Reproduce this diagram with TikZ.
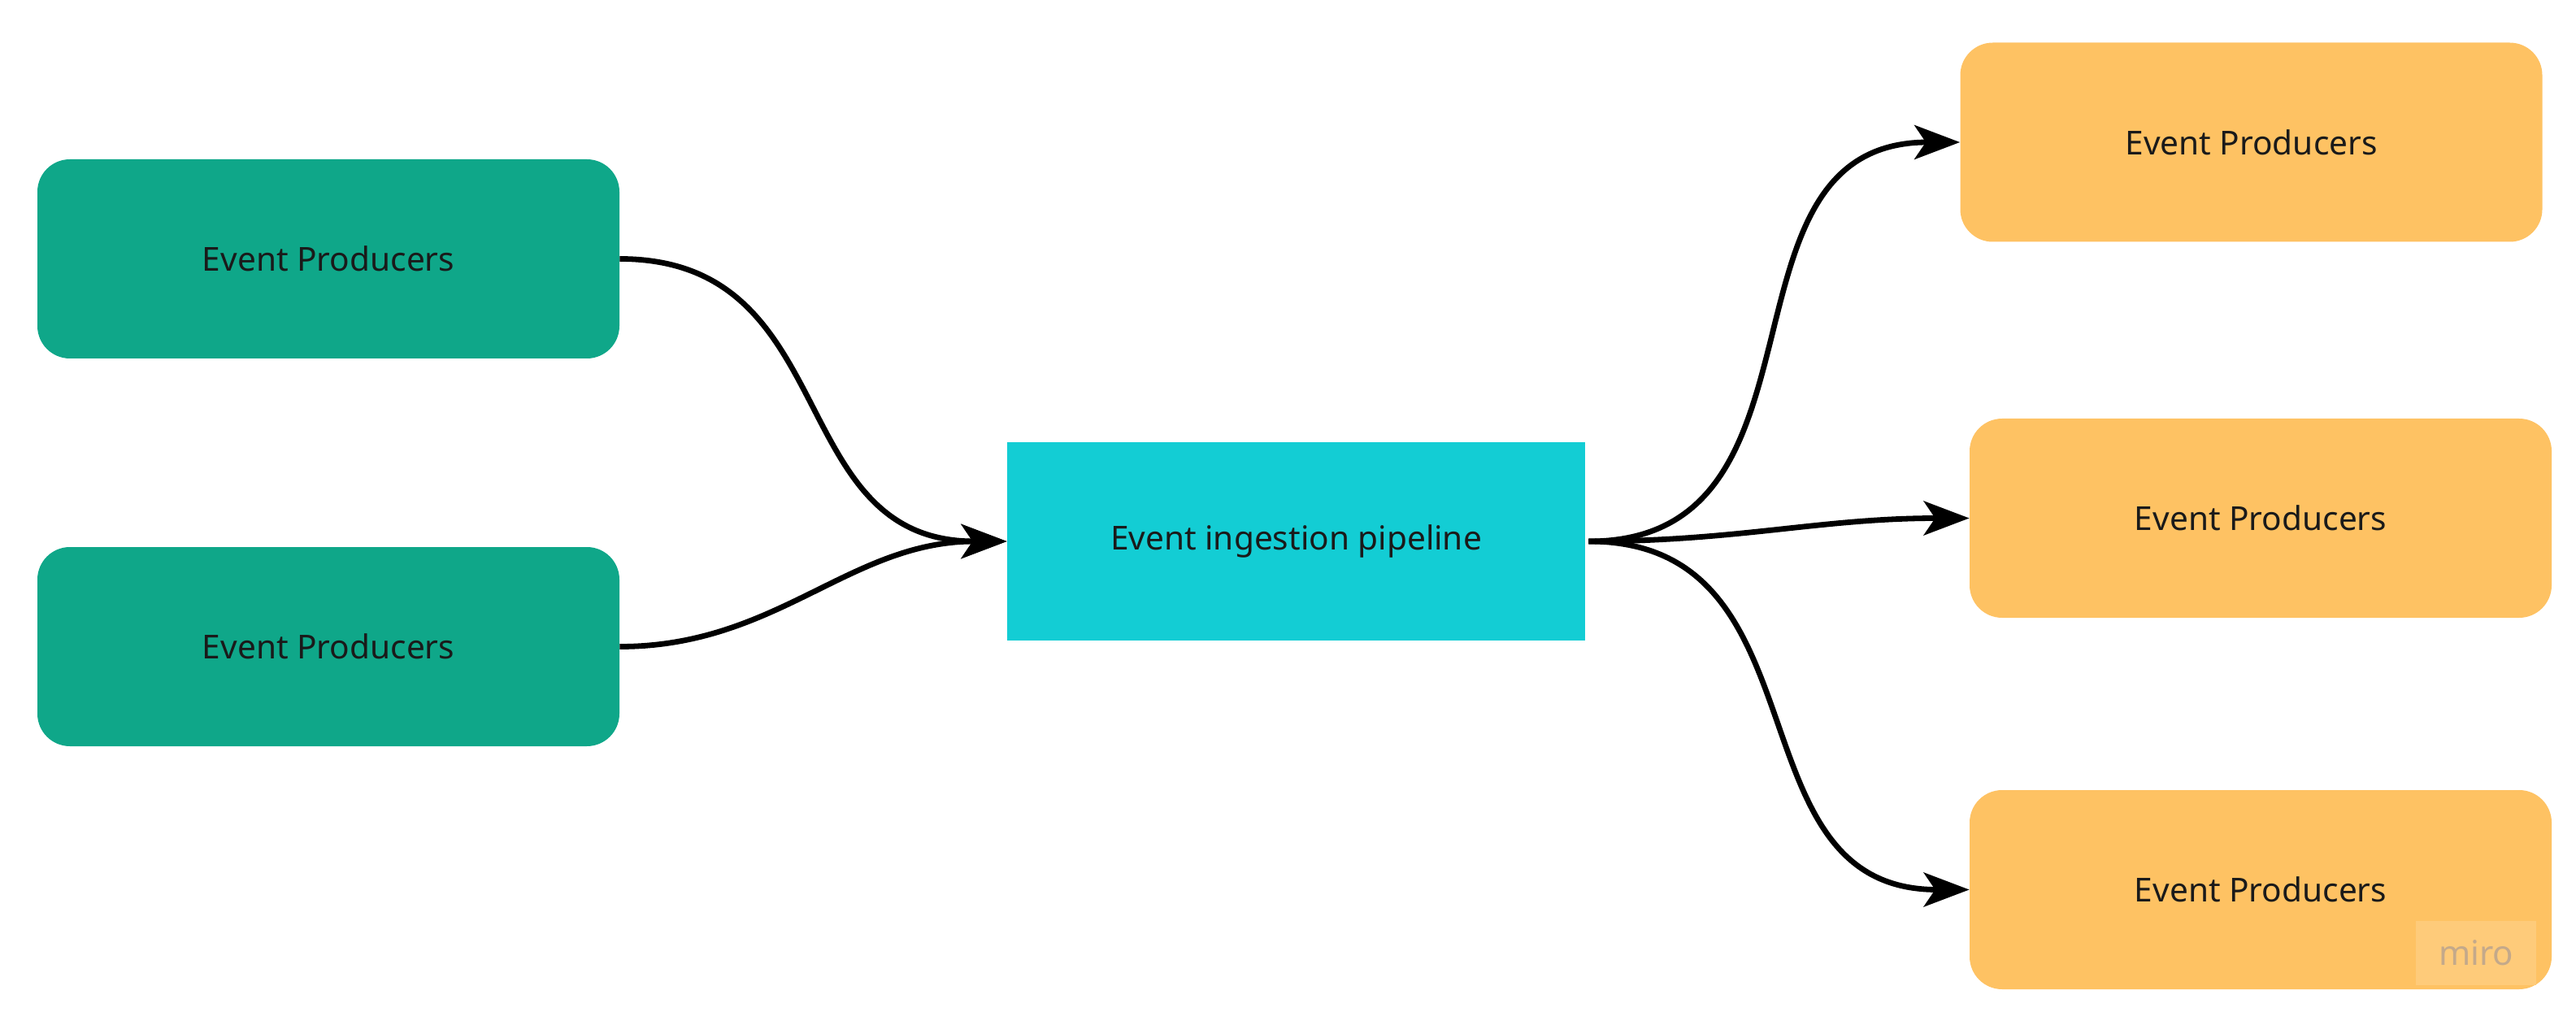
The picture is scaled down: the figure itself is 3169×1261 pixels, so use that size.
\documentclass[tikz,border=0pt]{standalone}
\usepackage{fontspec}
\setmainfont{Noto Sans}
\usetikzlibrary{arrows.meta}
\definecolor{prodgreen}{HTML}{0FA789}
\definecolor{pipecyan}{HTML}{13CDD4}
\definecolor{consorange}{HTML}{FEC263}
\definecolor{txtdark}{HTML}{1A1A1A}
\definecolor{miroback}{HTML}{FECB7A}
\definecolor{mirotext}{HTML}{C4A98A}
\tikzset{
  boxbase/.style={minimum width=358pt, minimum height=122.5pt, inner sep=0pt,
    text=txtdark, font=\fontsize{20.3}{22}\selectfont},
  producer/.style={boxbase, fill=prodgreen, rounded corners=20pt},
  pipeline/.style={boxbase, fill=pipecyan, minimum width=355.5pt, minimum height=122pt},
  consumer/.style={boxbase, fill=consorange, rounded corners=20pt},
  flow/.style={line width=3.4pt, draw=black,
    -{Stealth[length=28pt, width=21pt, inset=7pt]}},
}
\begin{document}
\begin{tikzpicture}[x=0.5pt, y=-0.5pt]
  \useasboundingbox (0,0) rectangle (3169,1261);
  \node[producer] (g1) at (404,318.5) {Event Producers};
  \node[producer] (g2) at (404,795.5) {Event Producers};
  \node[pipeline] (pipe) at (1594.5,666) {Event ingestion pipeline};
  \node[consumer] (o1) at (2769.5,175) {Event Producers};
  \node[consumer] (o2) at (2781,637.5) {Event Producers};
  \node[consumer] (o3) at (2781,1094.5) {Event Producers};
  \node[fill=miroback, minimum width=74pt, minimum height=39.5pt, inner sep=0pt,
        text=mirotext, font=\fontsize{21}{22}\selectfont\bfseries] (miro) at (3046,1172.5) {miro};
  \draw[flow] (g1.east) to[out=0, in=180, looseness=1.2] (pipe.west);
  \draw[flow] (g2.east) to[out=0, in=180] (pipe.west);
  \draw[flow] ([xshift=2pt]pipe.east) to[out=0, in=180, looseness=1.2] (o1.west);
  \draw[flow] ([xshift=2pt]pipe.east) to[out=0, in=180] (o2.west);
  \draw[flow] ([xshift=2pt]pipe.east) to[out=0, in=180, looseness=1.2] (o3.west);
\end{tikzpicture}
\end{document}
